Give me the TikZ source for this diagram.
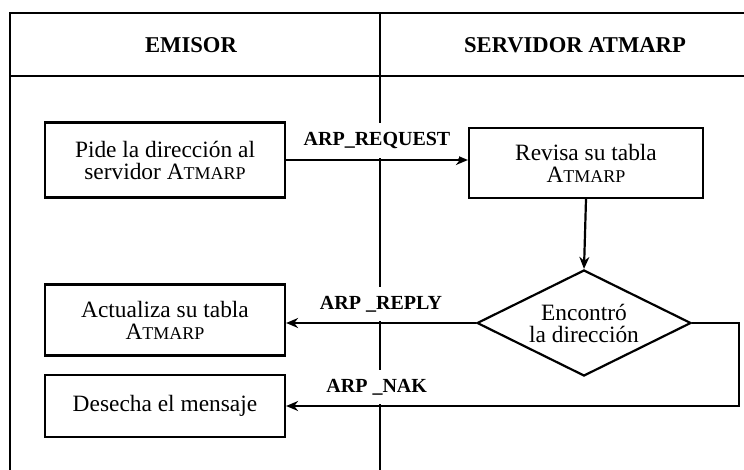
\documentclass[tikz,border=0pt]{standalone}
\usepackage{fontspec}
\setmainfont{Liberation Serif}
\usetikzlibrary{arrows.meta,shapes.geometric}
\newcommand{\smcap}[1]{{\fontsize{9}{11}\selectfont #1}}

\begin{document}
\begin{tikzpicture}[x=0.5pt, y=-0.5pt, line width=1.1pt,
      font=\fontsize{11.7}{11}\selectfont,
      box/.style={rectangle, draw, align=center, inner sep=0pt,
                  minimum width=120pt},
      decis/.style={diamond, draw, align=center, inner sep=0pt, aspect=2,
                  minimum width=107pt, minimum height=53pt},
      hdr/.style={font=\fontsize{11.3}{11}\selectfont\bfseries},
      msg/.style={above=0.5pt, fill=white, inner sep=4.5pt,
                  font=\fontsize{10}{11}\selectfont\bfseries},
      flow/.style={-{Stealth[length=6pt,width=5pt]}}]
    \useasboundingbox (0,0) rectangle (744,470);
    % swimlane frame
    \draw (744,13) -- (10,13) -- (10,470);
    \draw (10,76) -- (744,76);
    \draw (380,13) -- (380,470);
    \node[hdr] (emi) at (191,45) {EMISOR};
    \node[hdr] (srv) at (575,45) {SERVIDOR ATMARP};
    % steps
    \node[box, minimum height=37.5pt] (pide) at (165,160)
      {Pide la dirección al\\servidor A\smcap{TMARP}};
    \node[box, minimum width=117pt, minimum height=35pt] (rev) at (586,163)
      {Revisa su tabla\\A\smcap{TMARP}};
    \node[decis] (dir) at (584,323) {Encontró\\la dirección};
    \node[box, minimum height=35.5pt] (act) at (165,320)
      {Actualiza su tabla\\A\smcap{TMARP}};
    \node[box, minimum height=31pt] (des) at (165,406) {Desecha el mensaje};
    % messages
    \draw[flow] (pide.east) -- node[msg] {ARP\_REQUEST} (pide.east -| rev.west);
    \draw[flow] (rev.south) -- (dir.north);
    \draw[flow] (dir.west) -- node[msg] {ARP \_REPLY} (dir.west -| act.east);
    \draw[flow] (dir.east) -- ++(47,0) |- node[msg, pos=0.9] {ARP \_NAK}
      (des.east);
  \end{tikzpicture}
\end{document}
